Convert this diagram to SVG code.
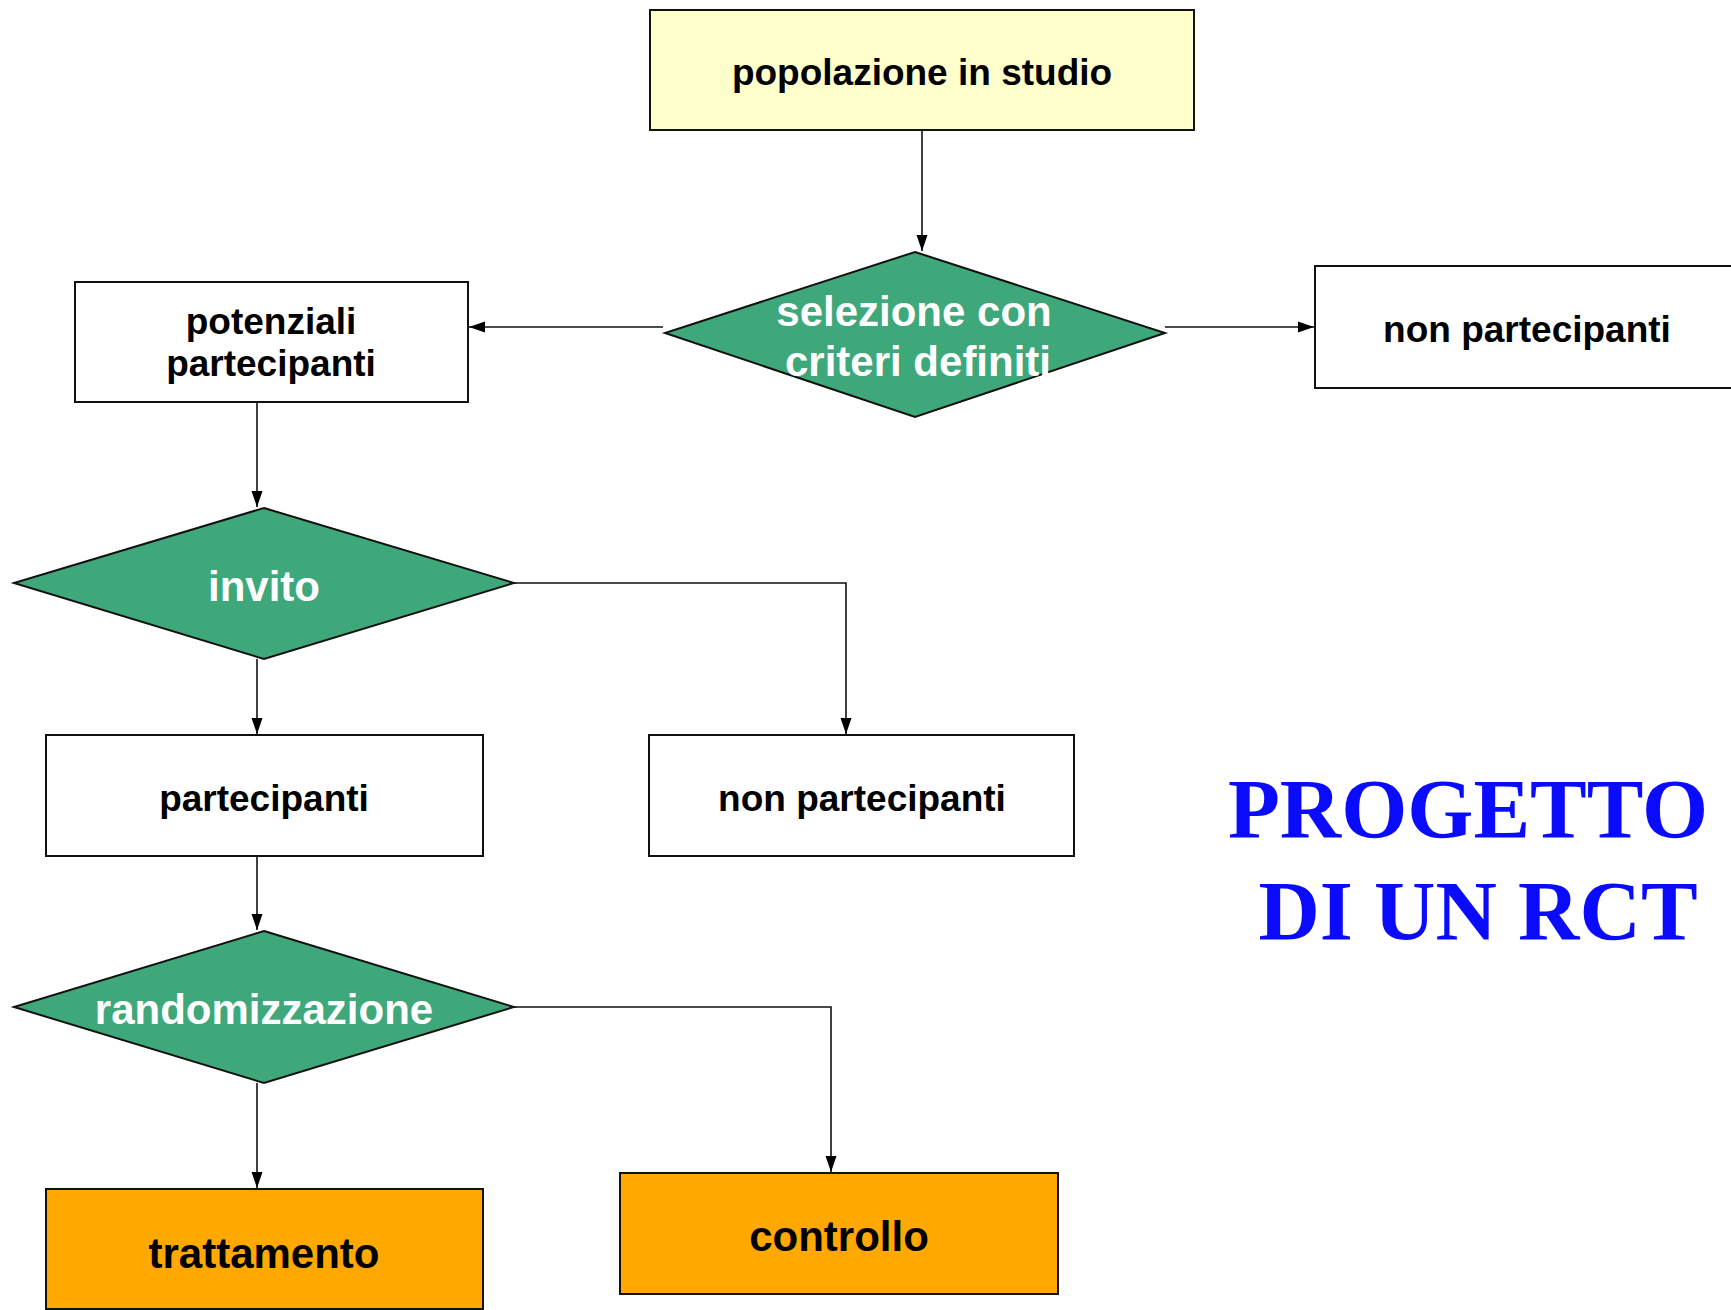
<svg xmlns="http://www.w3.org/2000/svg" width="1731" height="1310" viewBox="0 0 1731 1310">
  <style>
    .box { stroke: #111; stroke-width: 2; }
    .plain { fill: #ffffff; }
    .start { fill: #ffffcc; }
    .arm { fill: #ffa800; }
    .dec { fill: #3ea87b; stroke: #111; stroke-width: 2; }
    .lbl { font-family: "Liberation Sans", Arial, sans-serif; font-weight: bold; font-size: 37px; fill: #000; text-anchor: middle; }
    .big { font-size: 42px; }
    .wlbl { font-family: "Liberation Sans", Arial, sans-serif; font-weight: bold; font-size: 42px; fill: #ffffff; text-anchor: middle; }
    .title { font-family: "Liberation Serif", "Times New Roman", serif; font-weight: bold; font-size: 85px; fill: #0a0aff; text-anchor: middle; }
    .conn { fill: none; stroke: #111; stroke-width: 1.6; }
  </style>
  <defs>
    <marker id="arrow" markerUnits="userSpaceOnUse" markerWidth="16" markerHeight="14" viewBox="0 0 16 14" refX="16" refY="7" orient="auto">
      <path d="M0,1.5 L16,7 L0,12.5 Z" fill="#000"/>
    </marker>
  </defs>

  <rect width="1731" height="1310" fill="#ffffff"/>

  <g id="connectors">
    <path class="conn" d="M922,130 V251" marker-end="url(#arrow)"/>
    <path class="conn" d="M663,327 H469" marker-end="url(#arrow)"/>
    <path class="conn" d="M1165,327 H1314" marker-end="url(#arrow)"/>
    <path class="conn" d="M257,402 V507" marker-end="url(#arrow)"/>
    <path class="conn" d="M514,583 H846 V734" marker-end="url(#arrow)"/>
    <path class="conn" d="M257,659 V734" marker-end="url(#arrow)"/>
    <path class="conn" d="M257,856 V930" marker-end="url(#arrow)"/>
    <path class="conn" d="M514,1007 H831 V1172" marker-end="url(#arrow)"/>
    <path class="conn" d="M257,1083 V1188" marker-end="url(#arrow)"/>
  </g>

  <g id="popolazione">
    <rect class="box start" x="650" y="10" width="544" height="120"/>
    <text class="lbl" x="922" y="85">popolazione in studio</text>
  </g>

  <g id="selezione">
    <polygon class="dec" points="915,252 1165,333 915,417 665,333"/>
    <text class="wlbl" x="914" y="326">selezione con</text>
    <text class="wlbl" x="918" y="376">criteri definiti</text>
  </g>

  <g id="potenziali">
    <rect class="box plain" x="75" y="282" width="393" height="120"/>
    <text class="lbl" x="271" y="334">potenziali</text>
    <text class="lbl" x="271" y="376">partecipanti</text>
  </g>

  <g id="non-partecipanti-selezione">
    <rect class="box plain" x="1315" y="266" width="430" height="122"/>
    <text class="lbl" x="1527" y="342">non partecipanti</text>
  </g>

  <g id="invito">
    <polygon class="dec" points="264,508 514,583 264,659 14,583"/>
    <text class="wlbl" x="264" y="601">invito</text>
  </g>

  <g id="partecipanti">
    <rect class="box plain" x="46" y="735" width="437" height="121"/>
    <text class="lbl" x="264" y="811">partecipanti</text>
  </g>

  <g id="non-partecipanti-invito">
    <rect class="box plain" x="649" y="735" width="425" height="121"/>
    <text class="lbl" x="862" y="811">non partecipanti</text>
  </g>

  <g id="randomizzazione">
    <polygon class="dec" points="264,931 514,1007 264,1083 14,1007"/>
    <text class="wlbl" x="264" y="1024">randomizzazione</text>
  </g>

  <g id="trattamento">
    <rect class="box arm" x="46" y="1189" width="437" height="120"/>
    <text class="lbl big" x="264" y="1268">trattamento</text>
  </g>

  <g id="controllo">
    <rect class="box arm" x="620" y="1173" width="438" height="121"/>
    <text class="lbl big" x="839" y="1251">controllo</text>
  </g>

  <g id="titolo">
    <text class="title" x="1468" y="838">PROGETTO</text>
    <text class="title" x="1478" y="940">DI UN RCT</text>
  </g>
</svg>
